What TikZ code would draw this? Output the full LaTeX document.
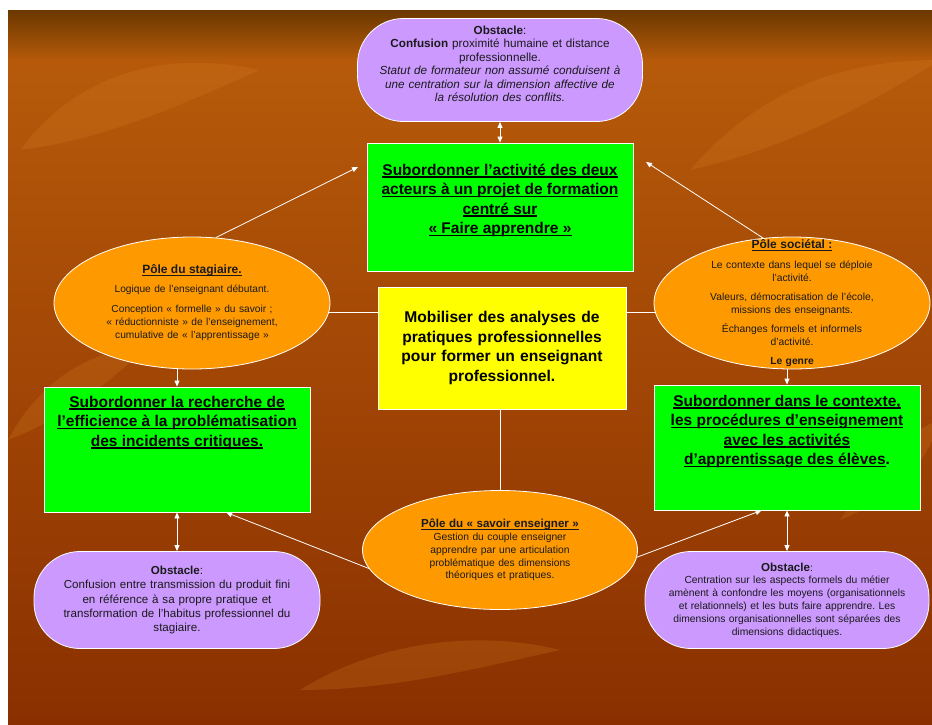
\documentclass[tikz,border=0pt]{standalone}
\usepackage{fontspec}
\setmainfont{Liberation Sans}
\usepackage{tikz}
\usetikzlibrary{shapes.geometric,arrows.meta}

\definecolor{fondHaut}{HTML}{6B3800}
\definecolor{fondMilieu}{HTML}{B65A0A}
\definecolor{fondBas}{HTML}{8A3000}
\definecolor{lumiere}{HTML}{D98428}
\definecolor{mauve}{HTML}{CC99FF}
\definecolor{vertvif}{HTML}{00FF00}
\definecolor{jaunevif}{HTML}{FFFF00}
\definecolor{orangepole}{HTML}{FF9900}
\definecolor{encre}{HTML}{1A1A1A}

\frenchspacing
\newcommand{\souligne}[1]{\leavevmode\setbox0\hbox{#1}\rlap{\rule[-2.4pt]{\wd0}{1.3pt}}\box0}

\tikzset{
  obstacle/.style={draw=white, line width=0.8pt, fill=mauve, rounded corners=46pt,
    align=center, text=encre, inner sep=0pt},
  pole/.style={ellipse, draw=white, line width=0.8pt, fill=orangepole, align=center,
    text=encre, inner xsep=0pt, inner ysep=-25pt, text width=190pt},
  cadre/.style={rectangle, draw=white, line width=0.8pt, fill=vertvif, inner sep=5pt},
  feuille/.style={fill=lumiere, opacity=0.22},
  lien/.style={draw=white, line width=0.8pt},
  fleche/.style={lien, -{Triangle[width=5pt,length=6pt]}},
  fleches/.style={lien, {Triangle[width=5pt,length=6pt]}-{Triangle[width=5pt,length=6pt]}}
}

\begin{document}
\begin{tikzpicture}[x=1pt, y=-1pt]
    \useasboundingbox (0,0) rectangle (932,724);
    % fond
    \fill[top color=fondHaut, bottom color=fondMilieu] (8,10) rectangle (932,60);
    \fill[top color=fondMilieu, bottom color=fondBas] (8,60) rectangle (932,724);
    \begin{scope}
      \clip (8,10) rectangle (932,724);
      \fill[feuille] (20,150) .. controls (80,70) and (170,50) .. (260,70) .. controls (170,110) and (100,140) .. cycle;
      \fill[feuille] (690,170) .. controls (760,90) and (840,60) .. (940,60) .. controls (860,110) and (780,150) .. cycle;
      \fill[feuille] (8,440) .. controls (40,380) and (90,350) .. (150,345) .. controls (100,390) and (60,420) .. cycle;
      \fill[feuille] (840,520) .. controls (880,460) and (910,430) .. (940,420) .. controls (925,470) and (890,500) .. cycle;
      \fill[feuille] (300,690) .. controls (380,640) and (480,630) .. (560,650) .. controls (470,670) and (390,690) .. cycle;
    \end{scope}

    % obstacles
    \node[obstacle, minimum width=285pt, minimum height=103pt, text width=275pt,
      font=\fontsize{11.7}{13.5}\selectfont] (obsHaut) at (500,70)
      {{\bfseries Obstacle}:\\ {\bfseries Confusion} proximité humaine et distance\\ professionnelle.\\
       \itshape Statut de formateur non assumé conduisent à\\ \itshape une centration sur la dimension affective de\\
       \itshape la résolution des conflits.\\[-1pt] \mbox{}};
    \node[obstacle, minimum width=286pt, minimum height=97pt, text width=270pt,
      font=\fontsize{11.6}{14.3}\selectfont] (obsGauche) at (177,600)
      {{\bfseries Obstacle}:\\ Confusion entre transmission du produit fini\\ en référence à sa propre pratique et\\
       transformation de l'habitus professionnel du\\ stagiaire.};
    \node[obstacle, minimum width=284pt, minimum height=97pt, text width=276pt,
      font=\fontsize{10.3}{12.8}\selectfont] (obsDroite) at (787,600)
      {{\fontsize{11.6}{12.8}\bfseries Obstacle}:\\ Centration sur les aspects formels du métier\\
       amènent à confondre les moyens (organisationnels\\ et relationnels) et les buts faire apprendre. Les\\
       dimensions organisationnelles sont séparées des\\ dimensions didactiques.};

    % cadres verts
    \node[cadre] (faire) at (500,207)
      {\begin{minipage}[t][118pt][t]{256pt}\centering\fontsize{15.5}{19.5}\bfseries\selectfont
       \vspace*{16pt}\souligne{Subordonner l’activité des deux}\\ \souligne{acteurs à un projet de formation}\\
       \souligne{centré sur}\\ \souligne{« Faire apprendre »}\end{minipage}};
    \node[cadre] (recherche) at (177,449.5)
      {\begin{minipage}[t][115pt][t]{256pt}\centering\fontsize{15.5}{19.5}\bfseries\selectfont
       \vspace*{4pt}\souligne{Subordonner la recherche de}\\ \souligne{l’efficience à la problématisation}\\
       \souligne{des incidents critiques.}\end{minipage}};
    \node[cadre] (contexte) at (787,447.5)
      {\begin{minipage}[t][115pt][t]{256pt}\centering\fontsize{15.5}{19.5}\bfseries\selectfont
       \vspace*{5pt}\souligne{Subordonner dans le contexte,}\\ \souligne{les procédures d’enseignement}\\
       \souligne{avec les activités}\\ \souligne{d’apprentissage des élèves}.\end{minipage}};

    % centre
    \node[cadre, fill=jaunevif, minimum width=248pt, minimum height=122pt, text width=238pt,
      align=center, font=\fontsize{15.6}{19.5}\bfseries\selectfont] (centre) at (502,348)
      {Mobiliser des analyses de\\ pratiques professionnelles\\ pour former un enseignant\\ professionnel.};

    % poles
    \node[pole, minimum width=276pt, minimum height=132pt, font=\fontsize{10.2}{13}\selectfont]
      (stagiaire) at (192,303)
      {{\fontsize{12}{13}\bfseries\souligne{Pôle du stagiaire.}}\\[6pt] Logique de l'enseignant débutant.\\[7pt]
       Conception « formelle » du savoir ;\\ « réductionniste » de l'enseignement,\\ cumulative de « l'apprentissage »};
    \node[pole, minimum width=276pt, minimum height=132pt, font=\fontsize{10.3}{12.8}\selectfont]
      (societal) at (792,303)
      {{\fontsize{12}{12.8}\bfseries\souligne{Pôle sociétal :}}\\[7pt] Le contexte dans lequel se déploie\\ l'activité.\\[7pt]
       Valeurs, démocratisation de l'école,\\ missions des enseignants.\\[6pt]
       Échanges formels et informels\\ d'activité.\\[6pt] {\bfseries Le genre}};
    \node[pole, minimum width=275pt, minimum height=119pt, font=\fontsize{10.3}{12.8}\selectfont]
      (savoir) at (500,550)
      {{\fontsize{11.6}{12.8}\bfseries\souligne{Pôle du « savoir enseigner »}}\\ Gestion du couple enseigner\\
       apprendre par une articulation\\ problématique des dimensions\\ théoriques et pratiques.};

    % liaisons
    \coordinate (versFaireG) at (358,167);
    \coordinate (versFaireD) at (646,162);
    \draw[fleches] (obsHaut.south) -- (faire.north);
    \draw[fleche] (stagiaire.70) -- (versFaireG);
    \draw[fleche] (societal.114) -- (versFaireD);
    \draw[lien] (stagiaire.-4) -- (stagiaire.-4 -| centre.west);
    \draw[lien] (societal.184) -- (societal.184 -| centre.east);
    \draw[lien] (centre.south -| savoir.north) -- (savoir.north);
    \draw[fleche] (stagiaire.south -| recherche.north) -- (recherche.north);
    \draw[fleche] (societal.south -| contexte.north) -- (contexte.north);
    \draw[fleches] (recherche.south) -- (obsGauche.north);
    \draw[fleches] (contexte.south) -- (obsDroite.north);
    \draw[fleche] (savoir.188) -- (recherche.-52.5);
    \draw[fleche] (savoir.-3) -- (contexte.-112.6);
\end{tikzpicture}
\end{document}
